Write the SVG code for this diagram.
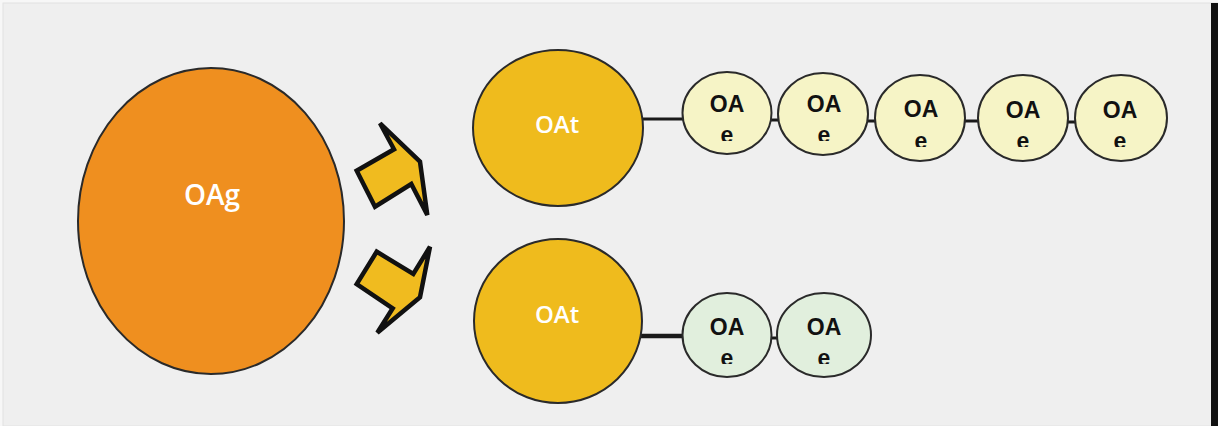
<svg xmlns="http://www.w3.org/2000/svg" width="1218" height="426" viewBox="0 0 1218 426">
  <style>
    .big { font-family: "Open Sans", Lato, sans-serif; font-weight: 600; fill: #ffffff; text-anchor: middle; }
    .sm { font-family: "Liberation Sans", Arial, sans-serif; font-weight: bold; font-size: 23px; fill: #111111; text-anchor: middle; }
    .edge { stroke: #1a1a1a; fill: none; }
    .ring { stroke: #2a2a2a; stroke-width: 2; }
    .pale { fill: #f6f4c6; }
    .mint { fill: #e1efdd; }
    .arrow { fill: #f0bb1f; stroke: #111111; stroke-width: 4.5; stroke-linejoin: miter; }
  </style>
  <defs>
    <clipPath id="clipTop1"><rect x="600" y="0" width="300" height="141"/></clipPath>
    <clipPath id="clipTop2"><rect x="870" y="0" width="320" height="147"/></clipPath>
    <clipPath id="clipBot"><rect x="600" y="200" width="300" height="164"/></clipPath>
  </defs>
  <rect x="0" y="0" width="1218" height="426" fill="#f7f7f7"/>
  <rect x="3" y="3" width="1215" height="423" fill="#efefef" stroke="#e2e2e2" stroke-width="1"/>
  <rect x="1211" y="3" width="7" height="423" fill="#111111"/>

  <g id="connectors">
    <line class="edge" x1="640" y1="119" x2="686" y2="119" stroke-width="3"/>
    <line class="edge" x1="770" y1="120" x2="780" y2="120" stroke-width="3"/>
    <line class="edge" x1="867" y1="121" x2="876" y2="121" stroke-width="3"/>
    <line class="edge" x1="963" y1="121" x2="980" y2="121" stroke-width="3"/>
    <line class="edge" x1="1066" y1="122" x2="1077" y2="122" stroke-width="3"/>
    <line class="edge" x1="640" y1="336" x2="686" y2="336" stroke-width="4.5"/>
    <line class="edge" x1="770" y1="338" x2="780" y2="338" stroke-width="3"/>
    <polygon id="arrow-up" class="arrow" points="380,123.3 420,161.7 427.3,215 411.3,184 375,206.7 356.7,170.7 394,149.3"/>
    <polygon id="arrow-down" class="arrow" points="430,246.7 420,297.3 377.3,332.7 392.7,308.3 356.7,284 376.7,251.7 413.3,274"/>
  </g>

  <g id="oag">
    <ellipse cx="211" cy="221" rx="133" ry="153" fill="#ef8f1f" stroke="#2a2a2a" stroke-width="2"/>
    <text class="big" x="212" y="205" font-size="28">OAg</text>
  </g>

  <g id="oat-top">
    <ellipse cx="558" cy="128" rx="85" ry="78" fill="#efbb1d" stroke="#2a2a2a" stroke-width="2"/>
    <text class="big" x="557" y="133" font-size="24">OAt</text>
  </g>
  <g id="oat-bottom">
    <ellipse cx="558" cy="321" rx="84" ry="82" fill="#efbb1d" stroke="#2a2a2a" stroke-width="2"/>
    <text class="big" x="557" y="323" font-size="24">OAt</text>
  </g>

  <g id="oae-t1">
    <ellipse class="ring pale" cx="727" cy="113" rx="44.5" ry="41"/>
    <text class="sm" x="727" y="112">OA</text>
    <text class="sm" x="727" y="143" clip-path="url(#clipTop1)">e</text>
  </g>
  <g id="oae-t2">
    <ellipse class="ring pale" cx="823" cy="114" rx="45" ry="41"/>
    <text class="sm" x="824" y="112">OA</text>
    <text class="sm" x="824" y="143" clip-path="url(#clipTop1)">e</text>
  </g>
  <g id="oae-t3">
    <ellipse class="ring pale" cx="920" cy="118" rx="45" ry="43"/>
    <text class="sm" x="921" y="117">OA</text>
    <text class="sm" x="921" y="149" clip-path="url(#clipTop2)">e</text>
  </g>
  <g id="oae-t4">
    <ellipse class="ring pale" cx="1023" cy="118" rx="45" ry="43"/>
    <text class="sm" x="1023" y="118">OA</text>
    <text class="sm" x="1023" y="149" clip-path="url(#clipTop2)">e</text>
  </g>
  <g id="oae-t5">
    <ellipse class="ring pale" cx="1121" cy="118" rx="46" ry="43"/>
    <text class="sm" x="1120" y="118">OA</text>
    <text class="sm" x="1120" y="149" clip-path="url(#clipTop2)">e</text>
  </g>

  <g id="oae-b1">
    <ellipse class="ring mint" cx="727" cy="335" rx="44.5" ry="42"/>
    <text class="sm" x="727" y="335">OA</text>
    <text class="sm" x="727" y="366" clip-path="url(#clipBot)">e</text>
  </g>
  <g id="oae-b2">
    <ellipse class="ring mint" cx="824" cy="335" rx="47" ry="42"/>
    <text class="sm" x="824" y="335">OA</text>
    <text class="sm" x="824" y="366" clip-path="url(#clipBot)">e</text>
  </g>
</svg>
